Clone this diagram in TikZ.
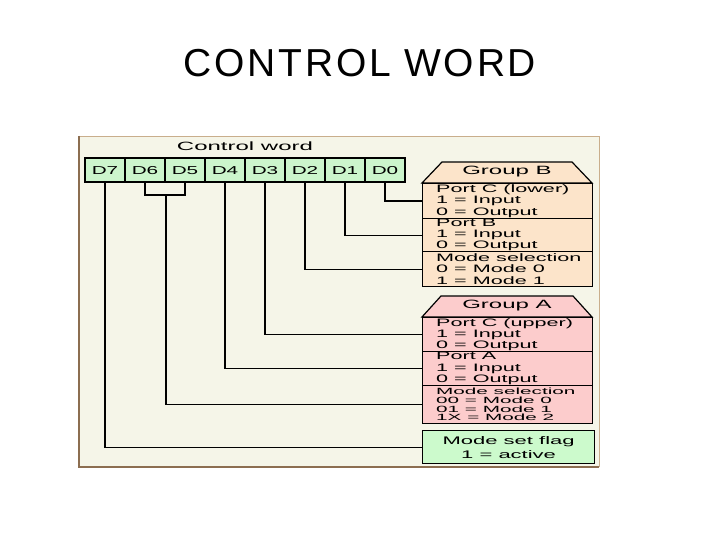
\documentclass[tikz,border=0pt]{standalone}
\usepackage{fontspec}
\setmainfont{Liberation Sans}
\newfontfamily\widefont[FakeStretch=2.0]{Liberation Sans}
\newfontfamily\bitfont[FakeStretch=1.8]{Liberation Sans}
\newfontfamily\widerfont[FakeStretch=2.3]{Liberation Sans}
\newfontfamily\titlefont[LetterSpace=7]{Liberation Sans}
\definecolor{panelbg}{HTML}{F5F5E8}
\definecolor{panelbd}{HTML}{8C6E50}
\definecolor{panellt}{HTML}{C9AE8C}
\definecolor{bitgreen}{HTML}{CCF5CC}
\definecolor{grpB}{HTML}{FCE4CA}
\definecolor{grpA}{HTML}{FCCCCC}
\definecolor{flaggreen}{HTML}{CCFACC}
\tikzset{
  wire/.style={line width=1.2pt, black},
  bitbox/.style={draw, line width=1.2pt, fill=bitgreen, minimum width=40pt, minimum height=24pt, inner sep=0pt,
    text height=8.3pt, text depth=0pt, font=\bitfont\fontsize{11.5}{11.5}\selectfont},
  rowbox/.style={draw, line width=1.2pt, minimum width=170pt, inner sep=0pt, anchor=north west},
  rowtext/.style={anchor=west, inner sep=0pt, align=left, font=\widefont\fontsize{10.8}{11.2}\selectfont},
  hdrbox/.style={draw, line width=1.2pt},
  hdrtext/.style={inner sep=0pt, font=\widefont\fontsize{12}{12}\selectfont}
}
\begin{document}
\begin{tikzpicture}[x=1pt,y=-1pt]
\useasboundingbox (0,0) rectangle (720,540);
\fill[white] (0,0) rectangle (720,540);
% title
\node[font=\titlefont\fontsize{39}{42}\selectfont, anchor=base, inner sep=0pt] (title) at (360,77) {CONTROL WORD};
% panel
\fill[panelbg] (79,137) rectangle (599,467);
\draw[panellt, line width=1pt] (79,137) -- (599,137) -- (599,467);
\draw[panelbd, line width=2pt] (79,136) -- (79,467) -- (599,467);
\node[hdrtext] (cw) at (245,146) {Control word};
% bits
\foreach \b [evaluate=\b as \xx using 105+40*(7-\b)] in {7,6,5,4,3,2,1,0}
  \node[bitbox] (d\b) at (\xx,170) {D\b};
% Group B
\draw[hdrbox, fill=grpB] (442,162) -- (572,162) -- (592,183) -- (422,183) -- cycle;
\node[hdrtext] (hB) at (507,172) {Group B};
\node[rowbox, fill=grpB, minimum height=35pt] (rB1) at (422,183) {};
\node[rowbox, fill=grpB, minimum height=33pt] (rB2) at (422,218) {};
\node[rowbox, fill=grpB, minimum height=35pt] (rB3) at (422,251) {};
\node[rowtext] (tB1) at ([xshift=14pt]rB1.west) {Port C (lower)\\1 = Input\\0 = Output};
\node[rowtext] (tB2) at ([xshift=14pt]rB2.west) {Port B\\1 = Input\\0 = Output};
\node[rowtext] (tB3) at ([xshift=14pt]rB3.west) {Mode selection\\0 = Mode 0\\1 = Mode 1};
% Group A
\draw[hdrbox, fill=grpA] (441,296) -- (573,296) -- (592,317) -- (422,317) -- cycle;
\node[hdrtext] (hA) at (507,305.5) {Group A};
\node[rowbox, fill=grpA, minimum height=34pt] (rA1) at (422,317) {};
\node[rowbox, fill=grpA, minimum height=34pt] (rA2) at (422,351) {};
\node[rowbox, fill=grpA, minimum height=38pt] (rA3) at (422,385) {};
\node[rowtext] (tA1) at ([xshift=14pt]rA1.west) {Port C (upper)\\1 = Input\\0 = Output};
\node[rowtext] (tA2) at ([xshift=14pt]rA2.west) {Port A\\1 = Input\\0 = Output};
\node[rowtext, font=\widerfont\fontsize{9}{8.7}\selectfont] (tA3) at ([xshift=14pt]rA3.west) {Mode selection\\00 = Mode 0\\01 = Mode 1\\1X = Mode 2};
% flag
\node[rowbox, fill=flaggreen, minimum width=172pt, minimum height=33pt] (flag) at (422,430) {};
\node[inner sep=0pt, align=center, font=\widefont\fontsize{11}{14}\selectfont] (tflag) at (flag.center) {Mode set flag\\1 = active};
% connectors
\draw[wire] (d0.south) |- (rB1.west);
\draw[wire] (d1.south) |- (rB2.west);
\draw[wire] (d2.south) |- (rB3.west);
\draw[wire] (d3.south) |- (rA1.west);
\draw[wire] (d4.south) |- (rA2.west);
\coordinate (br) at (166,195);
\draw[wire] (d6.south) |- (br) -| (d5.south);
\draw[wire] (br) |- (rA3.west);
\draw[wire] (d7.south) |- (flag.west);
\end{tikzpicture}
\end{document}
